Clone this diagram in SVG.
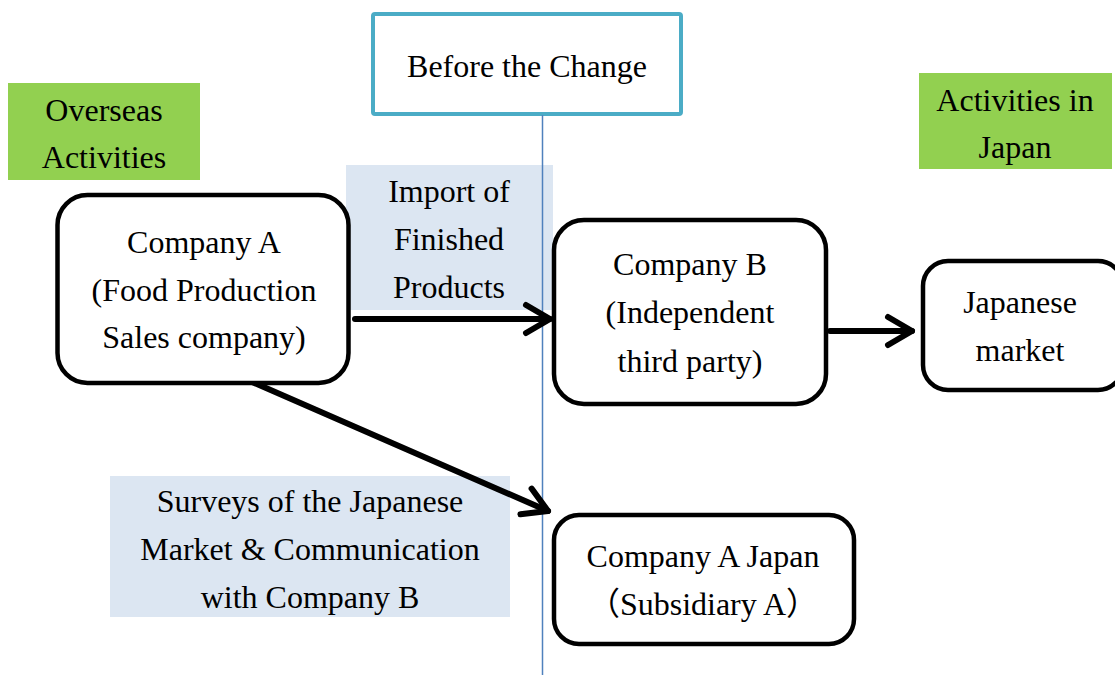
<svg xmlns="http://www.w3.org/2000/svg" width="1115" height="675" viewBox="0 0 1115 675">
<defs>
<style>
text{font-family:"Liberation Serif","Times New Roman",Times,serif;font-size:32px;fill:#000;text-anchor:middle}
.cjk{font-family:"Liberation Serif","Times New Roman","Noto Sans CJK JP",serif}
.node{fill:#fff;stroke:#000;stroke-width:4.5}
.green{fill:#92D050}
.lb{fill:#DCE6F2}
.conn{stroke:#000;stroke-width:6;fill:none;stroke-linecap:round}
</style>
<marker id="chev" markerUnits="userSpaceOnUse" markerWidth="40" markerHeight="40" viewBox="-30 -20 40 40" refX="0" refY="0" orient="auto">
<path d="M -24 -14 L 0 0 L -24 14" fill="none" stroke="#000" stroke-width="6" stroke-linecap="round" stroke-linejoin="round"/>
</marker>
</defs>
<rect width="1115" height="675" fill="#fff"/>
<g id="title">
<rect x="373" y="14" width="308" height="100" fill="#fff" stroke="#4BACC6" stroke-width="4" rx="2"/>
<text x="527" y="77">Before the Change</text>
</g>
<g id="overseas">
<rect class="green" x="8" y="83" width="192" height="97"/>
<text x="104" y="121">Overseas</text>
<text x="104" y="168">Activities</text>
</g>
<g id="japan-activities">
<rect class="green" x="919" y="73" width="193" height="96"/>
<text x="1015" y="111">Activities in</text>
<text x="1015" y="158">Japan</text>
</g>
<g id="import-label">
<rect class="lb" x="346" y="165" width="207" height="145"/>
<text x="449" y="202">Import of</text>
<text x="449" y="250">Finished</text>
<text x="449" y="298">Products</text>
</g>
<g id="surveys-label">
<rect class="lb" x="110" y="476" width="400" height="141"/>
<text x="310" y="512">Surveys of the Japanese</text>
<text x="310" y="560">Market &amp; Communication</text>
<text x="310" y="608">with Company B</text>
</g>
<line x1="542.5" y1="115" x2="542.5" y2="675" stroke="#4F81BD" stroke-width="1.5"/>
<g id="connectors">
<line class="conn" x1="355" y1="319" x2="550" y2="319" marker-end="url(#chev)"/>
<line class="conn" x1="830" y1="331" x2="912" y2="331" marker-end="url(#chev)"/>
<line class="conn" x1="250" y1="381" x2="548" y2="511" marker-end="url(#chev)"/>
</g>
<g id="companyA">
<rect class="node" x="57.5" y="195" width="291" height="188" rx="30"/>
<text x="204" y="253">Company A</text>
<text x="204" y="301">(Food Production</text>
<text x="204" y="348">Sales company)</text>
</g>
<g id="companyB">
<rect class="node" x="554" y="220" width="272" height="184" rx="30"/>
<text x="690" y="275">Company B</text>
<text x="690" y="323">(Independent</text>
<text x="690" y="372">third party)</text>
</g>
<g id="market">
<rect class="node" x="923" y="261" width="200" height="129" rx="25"/>
<text x="1020" y="313">Japanese</text>
<text x="1020" y="361">market</text>
</g>
<g id="companyAJapan">
<rect class="node" x="554" y="515" width="300" height="129" rx="25"/>
<text x="703" y="567">Company A Japan</text>
<text class="cjk" x="703" y="615">（Subsidiary A）</text>
</g>
</svg>
